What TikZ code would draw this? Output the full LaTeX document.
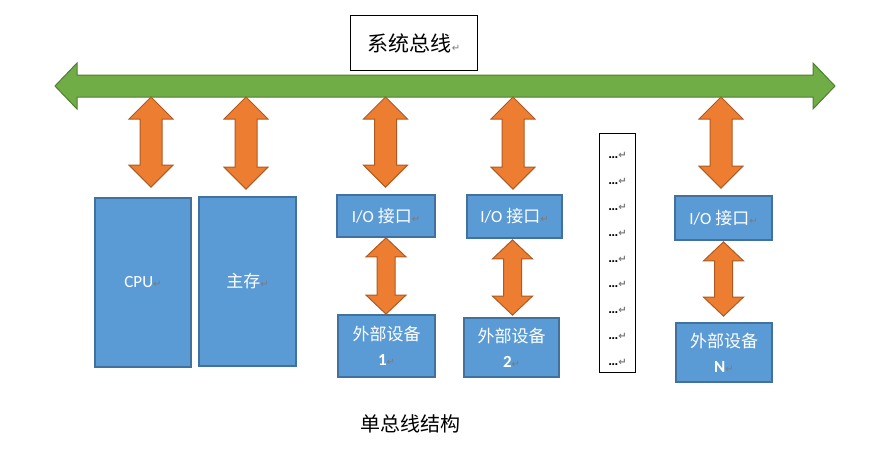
\documentclass[tikz,border=0pt]{standalone}
\usepackage{fontspec}
\setmainfont{Carlito}
\newfontfamily\cjk{Noto Sans CJK SC}
\newfontfamily\retfont{DejaVu Sans}
\usepackage{xcolor}
\usetikzlibrary{positioning,calc}

\definecolor{boxblue}{HTML}{5B9BD5}
\definecolor{boxline}{HTML}{41719C}
\definecolor{linkfill}{HTML}{ED7D31}
\definecolor{linkline}{HTML}{AE5A21}
\definecolor{busfill}{HTML}{70AD47}
\definecolor{busline}{HTML}{507E32}
\definecolor{retgray}{HTML}{7A7A7A}

\newcommand{\ret}{{\retfont\fontsize{10}{10}\selectfont\textcolor{retgray}{↵}}}

\tikzset{
	blocklink/.style n args={3}{draw=linkline, fill=linkfill, line width=1pt,
		to path={let \p1=(\tikztostart), \p2=(\tikztotarget) in
			-- (\x1+#1,\y1-#3) -- (\x1+#2,\y1-#3) -- (\x2+#2,\y2+#3) -- (\x2+#1,\y2+#3) -- (\p2)
			-- (\x2-#1,\y2+#3) -- (\x2-#2,\y2+#3) -- (\x1-#2,\y1-#3) -- (\x1-#1,\y1-#3) -- cycle}},
	uplink/.style={blocklink={22pt}{11pt}{22pt}},
	iolink/.style={blocklink={20pt}{9pt}{19pt}},
	busarrow/.style={draw=busline, fill=busfill, line width=1pt,
		to path={let \p1=(\tikztostart), \p2=(\tikztotarget) in
			-- (\x1+22pt,\y1+23pt) -- (\x1+22pt,\y1+11pt) -- (\x2-22pt,\y2+11pt) -- (\x2-22pt,\y2+23pt) -- (\p2)
			-- (\x2-22pt,\y2-23pt) -- (\x2-22pt,\y2-11pt) -- (\x1+22pt,\y1-11pt) -- (\x1+22pt,\y1-23pt) -- cycle}}
}

\begin{document}
\begin{tikzpicture}[x=1pt, y=-1pt, every node/.style={inner sep=2pt}]
	\tikzstyle{unit}=[draw=boxline, fill=boxblue, line width=1.8pt, text=white, align=center, font=\fontsize{17}{25}\selectfont]
	\tikzstyle{frame}=[draw=black, fill=white, line width=0.9pt]
	\useasboundingbox (0,0) rectangle (877,458);
	
	\node[frame, minimum width=127pt, minimum height=55pt, font=\fontsize{21}{21}\selectfont] (title) at (414,43) {{\cjk 系统总线}\ret};
	
	\coordinate (busL) at (55,86);
	\coordinate (busR) at (835,86);
	\path (busL) edge[busarrow] (busR);
	
	\node[unit, minimum width=96pt, minimum height=169pt] (cpu) at (143,282.5) {CPU\ret};
	\node[unit, minimum width=97pt, minimum height=169pt] (mem) at (247.5,281.5) {{\cjk 主存}\ret};
	
	\node[unit, minimum width=98pt, minimum height=42pt] (io1) at (386,216) {I/O {\cjk 接口}\ret};
	\node[unit, minimum width=97pt, minimum height=62pt] (dev1) at (386.5,346) {{\cjk 外部设备}\\\textbf{1}\ret};
	\node[unit, minimum width=95pt, minimum height=43pt] (io2) at (514.5,216.5) {I/O {\cjk 接口}\ret};
	\node[unit, minimum width=95pt, minimum height=59pt] (dev2) at (511.5,347.5) {{\cjk 外部设备}\\\textbf{2}\ret};
	\node[unit, minimum width=97pt, minimum height=44pt] (ioN) at (723.5,218) {I/O {\cjk 接口}\ret};
	\node[unit, minimum width=96pt, minimum height=59pt] (devN) at (724,352.5) {{\cjk 外部设备}\\\textbf{N}\ret};
	
	\node[frame, minimum width=36pt, minimum height=239pt] (more) at (617.5,253) {};
	\node[align=left, font=\fontsize{14}{25.9}\selectfont\bfseries] (dots) at ($(more.center)+(0,6)$)
		{…\ret\\…\ret\\…\ret\\…\ret\\…\ret\\…\ret\\…\ret\\…\ret\\…\ret};
	
	\coordinate (tap1) at (151,97);
	\coordinate (tap2) at (246,97);
	\coordinate (tap3) at (385.5,97);
	\coordinate (tap4) at (513,97);
	\coordinate (tap5) at (721,97);
	
	\path
	(tap1) edge[uplink] ($(tap1 |- cpu.north)+(0,-10)$)
	(tap2) edge[uplink] ($(tap2 |- mem.north)+(0,-7)$)
	(tap3) edge[uplink] ($(tap3 |- io1.north)+(0,-7)$)
	(tap4) edge[uplink] ($(tap4 |- io2.north)+(0,-5)$)
	(tap5) edge[uplink] ($(tap5 |- ioN.north)+(0,-7)$)
	
	(io1.south) edge[iolink] (io1.south |- dev1.north)
	($(io2.south)+(-2,1)$) edge[iolink] ($(io2.south |- dev2.north)+(-2,-2)$)
	($(ioN.south)+(0,1)$) edge[iolink] ($(ioN.south |- devN.north)+(0,-6)$)
	;
	
	\node[font=\fontsize{20}{20}\selectfont\cjk] (caption) at (410,424) {单总线结构};
\end{tikzpicture}
\end{document}
